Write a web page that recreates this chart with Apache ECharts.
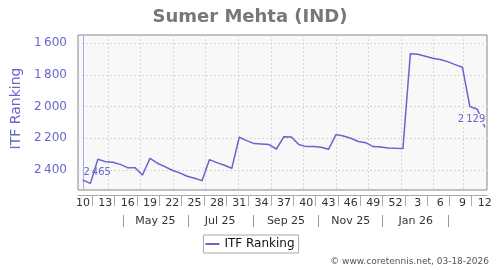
<!DOCTYPE html>
<html><head><meta charset="utf-8">
<script src="https://cdn.jsdelivr.net/npm/echarts@6/dist/echarts.min.js"></script>
<style>html,body{margin:0;padding:0;background:#fff}#c{width:500px;height:270px}</style>
</head><body><div id="c"></div>
<script>
const chartTitle = 'Sumer Mehta (IND)';
const seriesName = 'ITF Ranking';
const credit = '\u00a9 www.coretennis.net, 03-18-2026';
// ISO week numbers of each weekly ranking point (2025 wk10 .. 2026 wk12)
const weekLabels = [10,11,12,13,14,15,16,17,18,19,20,21,22,23,24,25,26,27,28,29,30,31,32,33,34,35,36,37,38,39,40,41,42,43,44,45,46,47,48,49,50,51,52,1,2,3,4,5,6,7,8,9,10,11,12];
const ranks = [2465,2485,2333,2348,2352,2365,2386,2386,2432,2327,2358,2379,2402,2419,2440,2453,2468,2335,2354,2371,2390,2194,2215,2234,2236,2240,2268,2190,2192,2240,2253,2253,2257,2270,2177,2186,2200,2221,2228,2253,2255,2261,2264,2265,1666,1670,1682,1695,1703,1716,1735,1752,2000,2017,2129];
const firstPointDate = '2025-03-08';
const yTicks = [1600,1800,2000,2200,2400];
const monthLabels = ['May 25','Jul 25','Sep 25','Nov 25','Jan 26'];
const monthLabelDates = ['2025-05-15','2025-07-15','2025-09-15','2025-11-15','2026-01-15'];
const monthSepDates = ['2025-04-15','2025-06-15','2025-08-15','2025-10-15','2025-12-15','2026-02-15'];
const monthStartDates = ['2025-04-01','2025-05-01','2025-06-01','2025-07-01','2025-08-01','2025-09-01','2025-10-01','2025-11-01','2025-12-01','2026-01-01','2026-02-01','2026-03-01'];

const toIdx = d => (Date.parse(d) - Date.parse(firstPointDate)) / (7 * 864e5);
const weekLabelIdx = weekLabels.map((w, i) => i).filter(i => i % 3 === 0);
const weekSepIdx = weekLabelIdx.slice(0, -1).map(i => i + 1.25);
const monthLabelPos = monthLabelDates.map(toIdx);
const monthSepPos = monthSepDates.map(toIdx);
const monthStartPos = monthStartDates.map(toIdx);
const fmt = v => String(v).replace(/\B(?=(\d{3})+(?!\d))/g, '\u2009');
const lineColor = '#6666cc';
const xMin = -0.67, xMax = 54.3;

const data = ranks.map((v, i) => {
  const item = { value: [i, v] };
  if (i === 0) item.label = { show: true, position: 'right', distance: 0, offset: [0, -8] };
  if (i === ranks.length - 1) item.label = { show: true, position: 'left', distance: 0, offset: [1, -8], backgroundColor: '#f8f8f8' };
  return item;
});

const chart = echarts.init(document.getElementById('c'), null, { renderer: 'canvas' });
chart.setOption({
  animation: false,
  textStyle: { fontFamily: 'DejaVu Sans' },
  title: { text: chartTitle, left: 'center', top: 3, textStyle: { fontSize: 18, fontWeight: 'bold', color: '#777', fontFamily: 'DejaVu Sans' } },
  grid: { left: 78, right: 13, top: 35, bottom: 80, show: true, backgroundColor: '#f8f8f8', borderColor: '#888', borderWidth: 1 },
  legend: {
    data: [seriesName], left: 'center', top: 235, icon: 'rect', itemWidth: 14, itemHeight: 2,
    borderColor: '#aaa', borderWidth: 1, borderRadius: 0, padding: [3, 4, 3, 2],
    textStyle: { fontSize: 12, color: '#111', fontFamily: 'DejaVu Sans' }
  },
  xAxis: [
    {
      type: 'value', min: xMin, max: xMax, position: 'bottom', offset: 5,
      axisLine: { show: true, lineStyle: { color: '#aaa' } },
      axisTick: { show: true, customValues: weekSepIdx, length: 11, lineStyle: { color: '#aaa' } },
      axisLabel: { customValues: weekLabelIdx, formatter: v => String(weekLabels[Math.round(v)]), fontSize: 11, color: '#333', margin: 3 },
      splitLine: { show: false }
    },
    {
      type: 'value', min: xMin, max: xMax, position: 'bottom', offset: 25,
      axisLine: { show: false },
      axisTick: { show: true, customValues: monthSepPos, length: 12, lineStyle: { color: '#999' } },
      axisLabel: { customValues: monthLabelPos, formatter: v => { let b = 0; monthLabelPos.forEach((p, i) => { if (Math.abs(p - v) < Math.abs(monthLabelPos[b] - v)) b = i; }); return monthLabels[b]; }, fontSize: 11, color: '#333', margin: 1 },
      splitLine: { show: false }
    },
    {
      type: 'value', min: xMin, max: xMax, position: 'top',
      axisLine: { show: false },
      axisTick: { show: false, customValues: monthStartPos },
      axisLabel: { show: false, customValues: monthStartPos },
      splitLine: { show: true, lineStyle: { color: '#d8d8d8', type: [2, 2] } }
    }
  ],
  yAxis: {
    type: 'value', inverse: true, min: 1548, max: 2527, offset: 5,
    axisLine: { show: true, lineStyle: { color: '#aaaadd' } },
    axisTick: { show: false, customValues: yTicks },
    axisLabel: { customValues: yTicks, formatter: fmt, fontSize: 12, color: lineColor, margin: 6 },
    splitLine: { show: true, lineStyle: { color: '#d8d8d8', type: [2, 2] } },
    name: seriesName, nameLocation: 'middle', nameGap: 44,
    nameTextStyle: { fontSize: 14, color: lineColor, padding: [0, 0, 0, 8] }
  },
  graphic: [{ type: 'text', right: 11, top: 257, style: { text: credit, font: '9px "DejaVu Sans"', fill: '#555' } }],
  series: [{
    name: seriesName, type: 'line', xAxisIndex: 0, data: data,
    symbol: 'circle', symbolSize: 1, showSymbol: true,
    lineStyle: { color: lineColor, width: 1.5 }, itemStyle: { color: lineColor },
    label: { show: false, fontSize: 10, color: lineColor, formatter: p => fmt(p.value[1]) },
    emphasis: { disabled: true }
  }]
});
</script></body></html>
